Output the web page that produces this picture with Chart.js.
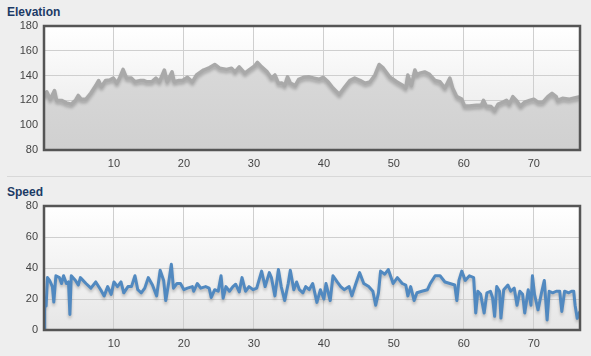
<!DOCTYPE html>
<html><head><meta charset="utf-8">
<script src="https://cdn.jsdelivr.net/npm/chart.js@4"></script>
<style>
html,body{margin:0;padding:0;background:#eeeeee;width:591px;height:356px;overflow:hidden;font-family:Arial,"Liberation Sans",sans-serif}
.t{position:absolute;left:7px;font-weight:bold;font-size:12px;line-height:14px;color:#1c3b66}
.sep{position:absolute;left:7px;right:0;height:1px;background:#d8d8d8}
canvas{position:absolute;left:0}
</style></head><body>
<div class="t" style="top:5px">Elevation</div>
<div class="sep" style="top:176px"></div>
<div class="t" style="top:185px">Speed</div>
<canvas id="c1" width="591" height="176" style="top:0"></canvas>
<canvas id="c2" width="591" height="180" style="top:176px"></canvas>
<script>
// Elevation: distance (km) and elevation values
const elevKm = [0,0.4,0.9,1.5,1.8,2.5,3.2,3.9,4.5,4.9,5.3,6.0,6.7,7.4,7.8,8.2,8.8,9.4,9.9,10.4,10.8,11.3,11.8,12.5,13.0,13.8,14.3,14.7,15.4,16.0,16.5,17.2,17.6,18.3,18.6,19.3,19.8,20.5,21.2,21.8,22.8,23.5,24.4,25.1,26.1,26.8,27.3,27.9,28.7,29.4,30.1,30.5,31.1,31.9,32.5,33.0,33.5,34.0,34.4,34.8,35.2,35.9,36.4,37.1,37.9,38.6,39.3,39.9,40.6,41.3,42.2,43.0,43.7,44.4,45.2,45.9,46.6,47.3,47.9,48.5,49.4,50.4,51.3,51.7,52.0,52.5,53.0,53.3,53.7,54.4,55.1,55.9,56.6,57.3,58.0,58.4,59.0,59.7,60.1,60.8,61.8,62.5,62.8,63.2,63.9,64.4,64.9,65.6,66.1,66.5,67.0,67.5,68.1,68.7,69.4,70.0,70.6,71.3,72.0,72.6,73.2,73.4,74.1,75.1,75.8,76.6];
const elevVal = [123,127,121,128,120,120,118,117,120,124,121,121,126,132,136,131,136,136.5,138,134,138,145,138,138,135,136,136,135,135,138,135,144.5,135,143,135,136,136,138.6,135,140.5,144.5,146,149,146,145,146,143,147,142,145,147.7,150.7,147,143,138,140.5,133.8,134,132,139,134,132,137,138.6,139,138,137,138.6,135,130,125,131,136,138,136,133.8,135,140.5,149,146,139,135,132,130,140.5,132,144.5,140.5,142,143,141,136,135,130,138,130,123,121,115.5,115.5,116,116,120,115.5,115,112,117,118.6,120,117,123,120,115.5,118.6,120,121,118.6,118.6,123,125.7,123,120,121.7,121,122,123];

// Speed: distance (km) and speed values
const speedKm = [0,0.1,0.3,0.5,0.8,1.2,1.4,1.7,2.2,2.5,2.8,3.2,3.5,3.7,3.9,4.5,4.9,5.2,6.0,6.7,7.4,8.1,8.6,9.1,9.6,10.0,10.5,11.0,11.4,12.0,12.5,13.0,13.4,13.9,14.4,14.9,15.5,16.1,16.6,17.1,17.4,17.8,18.2,18.5,19.0,19.5,20.0,20.5,21.2,21.4,21.9,22.4,23.1,23.6,23.9,24.4,24.9,25.3,25.6,26.0,26.5,27.0,27.4,27.9,28.3,28.8,29.3,29.9,30.4,31.1,31.6,32.2,32.5,33.0,33.5,33.9,34.4,34.9,35.2,35.7,36.1,36.5,37.0,37.4,37.9,38.4,39.0,39.5,40.0,40.3,40.9,41.3,41.9,42.4,42.9,43.6,44.0,44.5,45.1,45.7,46.4,47.0,47.4,47.8,48.1,48.7,49.2,49.9,50.5,51.2,51.7,52.0,52.4,52.9,53.3,54.0,54.8,55.2,55.9,56.6,57.3,58.0,58.7,59.0,59.3,59.7,60.2,60.8,61.4,61.7,62.0,62.4,62.9,63.3,63.8,64.1,64.4,64.7,65.1,65.3,65.7,66.3,66.7,67.2,67.6,68.0,68.4,68.7,69.2,69.6,69.8,70.1,70.6,71.1,71.5,71.9,72.2,72.7,73.2,73.7,74.0,74.4,75.0,75.4,75.7,75.9,76.2,76.6];
const speedVal = [0,18.7,15.5,33.8,32,28,18,35,33.8,30,35,30,31,10,35,32,29,33.8,30,27,31,26,22,28,23,31,28,31,24,28,28,35,26,24,27,33.8,29,22,38.5,32,19,30,42.4,27,30,30,26,27,28,25,30,27,28,27,21,26,25,35,20.5,28,25,28,29.5,24.6,33.8,25,28,26,27,38,28,37,33.8,22,39,28,19,30,38.5,26,31,26,24,28,26,30,17.8,26,20,30,19,35,31,28,26,28,22,29,37,30,28,25,16,24,38,36,39,30,33.8,30,29,22,28,19,24,25,26,30,35,35,31,30,29,19,32,38,32,35,33.8,11,25,23,11,24,25,21,8.8,28,25,7.7,26,29,25,27,16,25,23,11,26,16,35,23,13,24,32,6.5,25,24,25,25,12,25,24,25,25,16,7.5,12];

const xTicksStep = 10;
const xMax = 76.6;
const elevAxis = {min: 80, max: 180, step: 20};
const speedAxis = {min: 0, max: 80, step: 20};

function pts(xs, ys){ return xs.map((x,i)=>({x:x, y:ys[i]})); }

const framePlugin = {
  id:'frame',
  beforeDraw(chart){
    const {ctx, chartArea:a} = chart;
    const g = ctx.createLinearGradient(0,a.top,0,a.bottom);
    g.addColorStop(0,'#ffffff'); g.addColorStop(1,'#e6e6e6');
    ctx.save(); ctx.fillStyle=g; ctx.fillRect(a.left,a.top,a.right-a.left,a.bottom-a.top); ctx.restore();
  },
  afterDraw(chart){
    const {ctx, chartArea:a} = chart;
    ctx.save(); ctx.strokeStyle='#555555'; ctx.lineWidth=2.5;
    ctx.strokeRect(a.left,a.top,a.right-a.left,a.bottom-a.top); ctx.restore();
  }
};
const shadowPlugin = {
  id:'shadow',
  beforeDatasetDraw(chart){ const c=chart.ctx; c.save(); c.shadowColor='rgba(0,0,0,0.22)'; c.shadowBlur=3; c.shadowOffsetY=2.5; },
  afterDatasetDraw(chart){ chart.ctx.restore(); }
};

function makeScales(ax){
  return {
    x:{type:'linear', min:0, max:xMax,
       afterFit(s){ s.height = 26; },
       grid:{color:'#cfcfcf', drawTicks:false, lineWidth:1},
       border:{display:false},
       ticks:{stepSize:xTicksStep, includeBounds:false, padding:7, color:'#444', font:{family:'Arial, "Liberation Sans", sans-serif', size:11},
              maxRotation:0, autoSkip:false, callback:v=> v===0 ? '' : v}},
    y:{min:ax.min, max:ax.max,
       afterFit(s){ s.width = 44; },
       grid:{color:'#cfcfcf', drawTicks:false, lineWidth:1},
       border:{display:false},
       ticks:{stepSize:ax.step, padding:6, color:'#444', font:{family:'Arial, "Liberation Sans", sans-serif', size:11}}}
  };
}

new Chart(document.getElementById('c1'), {
  type:'line',
  data:{datasets:[{
    data: pts(elevKm, elevVal),
    borderColor:'#a9a9a9', borderWidth:3.5, borderJoinStyle:'round', pointRadius:0, tension:0,
    fill:'start',
    backgroundColor:(c)=>{ const a=c.chart.chartArea; if(!a) return '#d8d8d8';
      const g=c.chart.ctx.createLinearGradient(0,a.top,0,a.bottom); g.addColorStop(0,'#dddddd'); g.addColorStop(1,'#d0d0d0'); return g; }
  }]},
  options:{responsive:false, animation:false, layout:{padding:{top:26,left:0,right:11,bottom:0}},
    plugins:{legend:{display:false}, tooltip:{enabled:false}},
    scales: makeScales(elevAxis)},
  plugins:[framePlugin, shadowPlugin]
});

new Chart(document.getElementById('c2'), {
  type:'line',
  data:{datasets:[{
    data: pts(speedKm, speedVal),
    borderColor:'#5189c0', borderWidth:3, borderJoinStyle:'round', pointRadius:0, tension:0, fill:false
  }]},
  options:{responsive:false, animation:false, layout:{padding:{top:30,left:0,right:11,bottom:0}},
    plugins:{legend:{display:false}, tooltip:{enabled:false}},
    scales: makeScales(speedAxis)},
  plugins:[framePlugin, shadowPlugin]
});
</script>
</body></html>
